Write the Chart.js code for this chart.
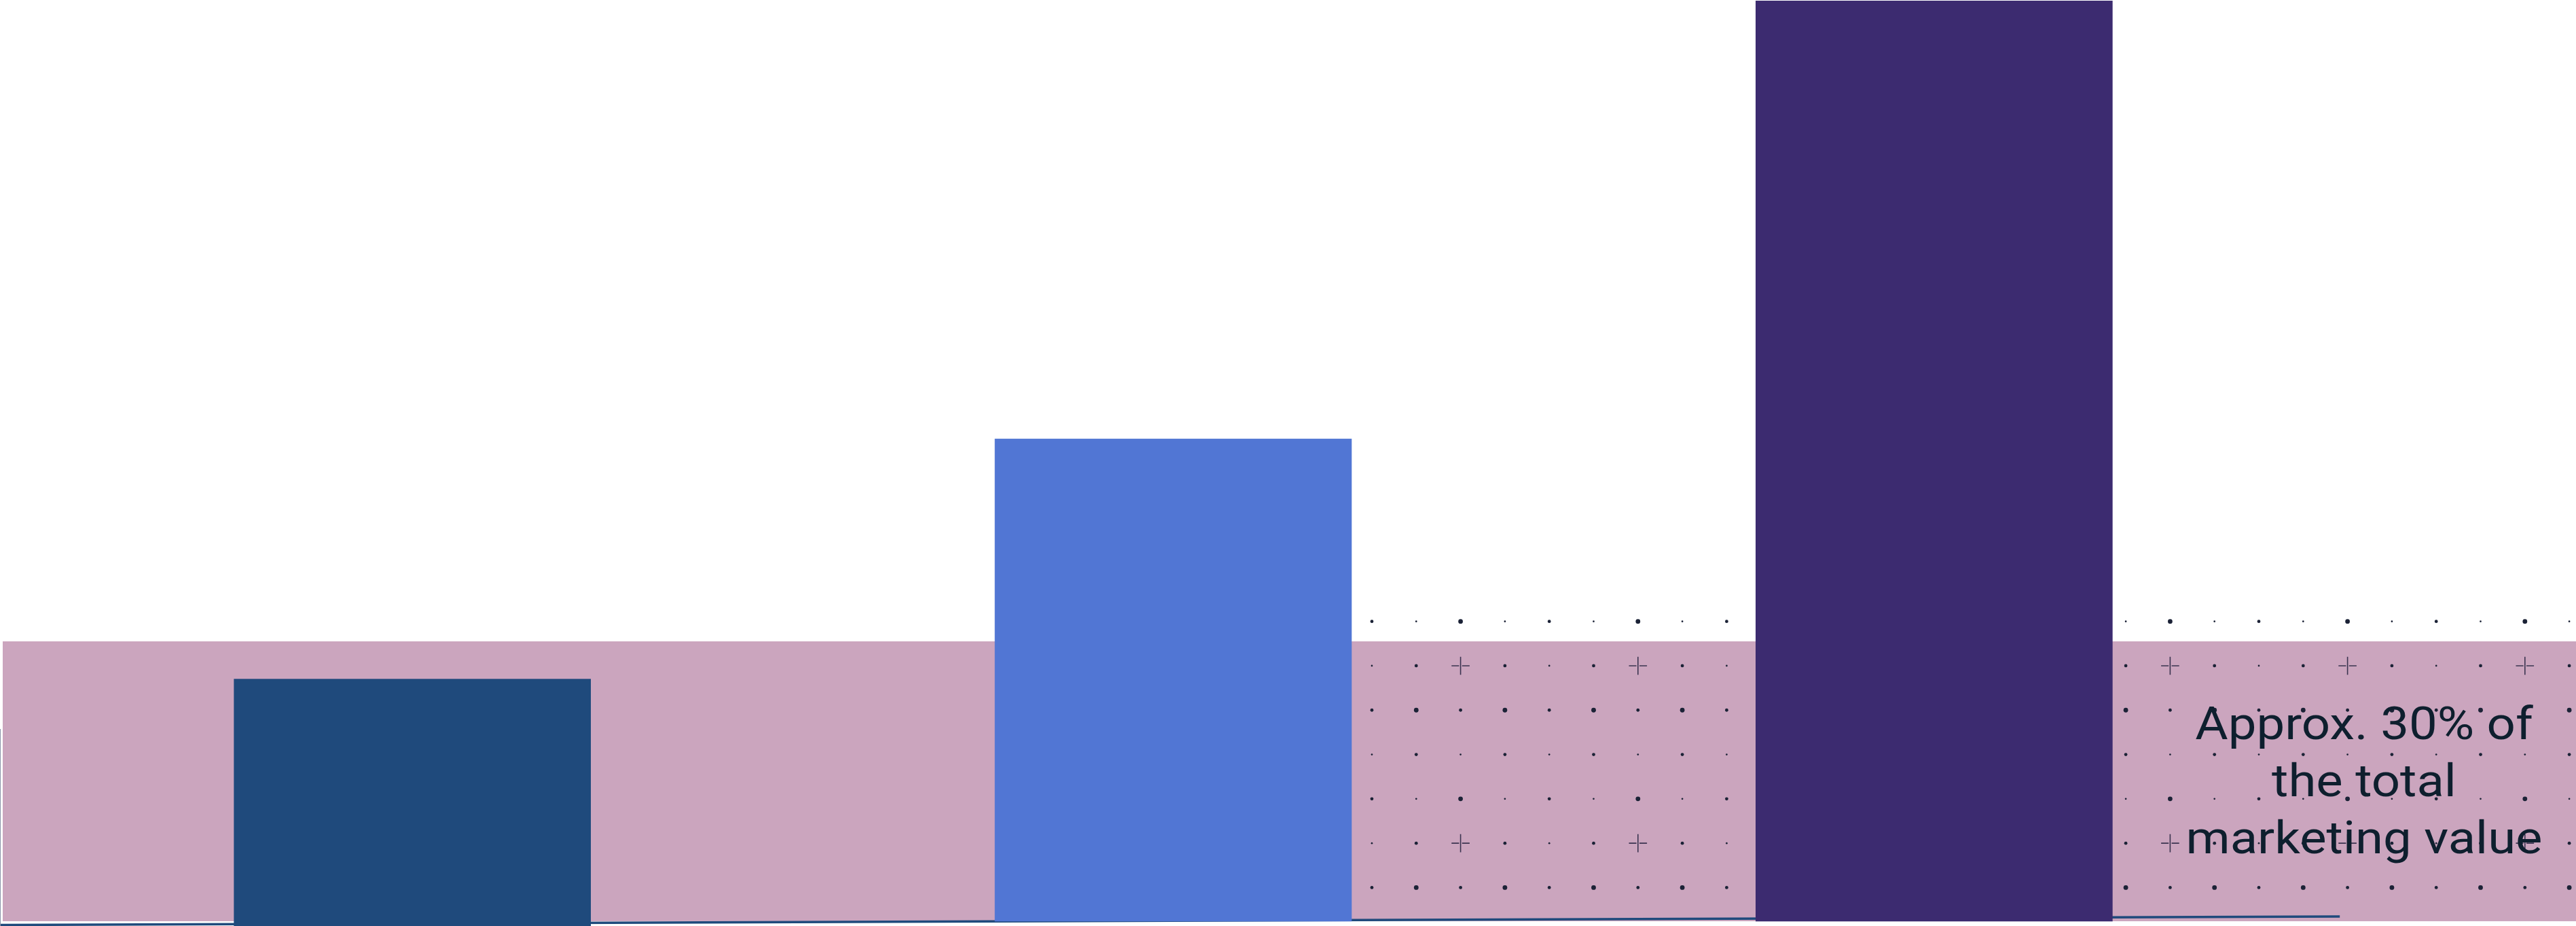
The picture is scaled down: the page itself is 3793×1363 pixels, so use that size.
<!DOCTYPE html>
<html>
<head>
<meta charset="utf-8">
<script src="https://cdn.jsdelivr.net/npm/chart.js@4.4.1/dist/chart.umd.min.js"></script>
<style>
  html, body { margin: 0; padding: 0; background: #ffffff; overflow: hidden; }
  #wrap { width: 3793px; height: 1363px; position: relative; }
</style>
</head>
<body>
<div id="wrap"><canvas id="c"></canvas></div>
<script>
// ---- data ----
const categories = ['Segment 1', 'Segment 2', 'Segment 3'];
const barBases = [-0.52, 0, 0];
const barValues = [26.3, 52.4, 100];
const barColors = ['#1F4A7C', '#5176D4', '#3C2B70'];
const bandValue = [30.4];                 // shaded share of total (≈30%)
const trendLine = [-0.41, 0.52];          // thin base line start / end values
const annotationLines = ['Approx. 30% of', 'the total', 'marketing value'];

const barData = categories.map((c, i) => [barBases[i], barValues[i]]);

const decor = {
  id: 'decor',
  beforeDatasetsDraw(chart) {
    const { ctx, width, height } = chart;
    const y = chart.scales.y;
    const meta = chart.getDatasetMeta(0);
    const bandTop = y.getPixelForValue(bandValue[0]);
    const zero = y.getPixelForValue(0);
    ctx.save();
    // shaded band
    ctx.fillStyle = '#CBA5BE';
    ctx.fillRect(4, bandTop, width - 4, zero - bandTop);

    // dotted pattern to the right of the second bar
    const b2 = meta.data[1];
    const startX = b2.x + b2.width / 2 + 30;
    const step = 65.3;
    const startY = bandTop - 29.4;
    const R = { B: 3.4, M: 2.4, S: 1.35 };
    for (let r = 0; r < 7; r++) {
      const cy = startY + r * step;
      for (let k = 0; ; k++) {
        const cx = startX + k * step;
        if (cx > width + 5) break;
        let t;
        const rm = r % 4, km = k % 4;
        if (rm === 0) t = ['M', 'S', 'B', 'S'][km];
        else if (rm === 1) t = ['S', 'M', 'X', 'M'][km];
        else if (rm === 2) t = (k % 2) ? 'B' : 'M';
        else t = (k % 2) ? 'M' : 'S';
        if (t === 'X') {
          ctx.strokeStyle = '#3b3450';
          ctx.lineWidth = 1.6;
          const h = 13.3, g = 2.2;
          ctx.beginPath();
          ctx.moveTo(cx - h, cy); ctx.lineTo(cx - g, cy);
          ctx.moveTo(cx + g, cy); ctx.lineTo(cx + h, cy);
          ctx.moveTo(cx, cy - h); ctx.lineTo(cx, cy + h);
          ctx.stroke();
        } else {
          ctx.fillStyle = '#1b2236';
          ctx.beginPath();
          ctx.arc(cx, cy, R[t], 0, Math.PI * 2);
          ctx.fill();
        }
      }
    }

    // thin slanted base line
    ctx.strokeStyle = '#1F4A7C';
    ctx.lineWidth = 3.5;
    ctx.beginPath();
    ctx.moveTo(0, y.getPixelForValue(trendLine[0]));
    ctx.lineTo(width * 0.9083, y.getPixelForValue(trendLine[1]));
    ctx.stroke();

    // faint left edge line
    ctx.strokeStyle = '#8a93a8';
    ctx.lineWidth = 1;
    ctx.beginPath();
    ctx.moveTo(0.5, height - 290);
    ctx.lineTo(0.5, height);
    ctx.stroke();
    ctx.restore();
  },
  afterDatasetsDraw(chart) {
    const { ctx, width } = chart;
    const y = chart.scales.y;
    const bandTop = y.getPixelForValue(bandValue[0]);
    ctx.save();
    ctx.font = '400 67px Roboto';
    ctx.fillStyle = '#0E1F2E';
    ctx.textAlign = 'center';
    ctx.textBaseline = 'alphabetic';
    const target = 525;
    const sx = target / ctx.measureText(annotationLines[2]).width;
    const cx = width - 312;
    const offs = [144, 228, 311.5];
    annotationLines.forEach((line, i) => {
      ctx.save();
      ctx.translate(cx, bandTop + offs[i]);
      ctx.scale(sx, 1);
      ctx.fillText(line, 0, 0);
      ctx.restore();
    });
    ctx.restore();
  }
};

new Chart(document.getElementById('c'), {
  type: 'bar',
  data: {
    labels: categories,
    datasets: [{
      data: barData,
      backgroundColor: barColors,
      borderWidth: 0,
      barThickness: 525
    }]
  },
  options: {
    responsive: true,
    maintainAspectRatio: false,
    animation: false,
    devicePixelRatio: 1,
    layout: { padding: { left: 47, right: 385, top: 1, bottom: 0 } },
    plugins: { legend: { display: false }, tooltip: { enabled: false }, title: { display: false } },
    scales: {
      x: { display: false, offset: true, grid: { display: false } },
      y: { display: false, min: -0.52, max: 100, grid: { display: false } }
    }
  },
  plugins: [decor]
});
</script>
</body>
</html>
